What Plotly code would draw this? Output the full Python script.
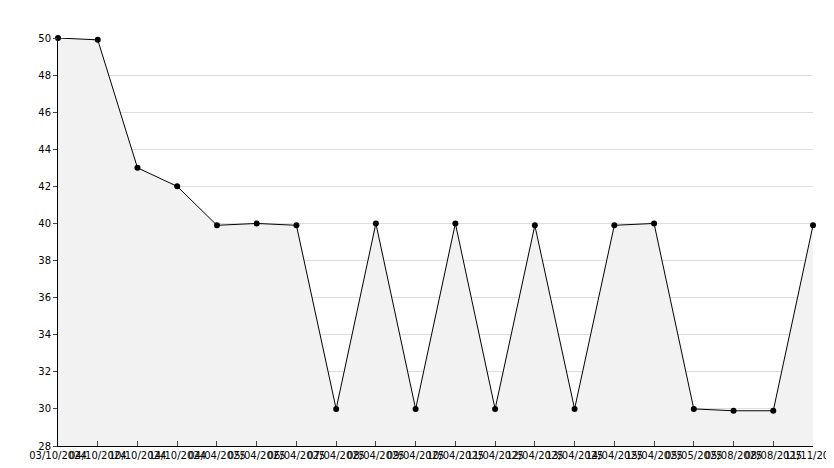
import plotly.graph_objects as go

dates = ["03/10/2024","04/10/2024","10/10/2024","14/10/2024","04/04/2025","05/04/2025",
         "06/04/2025","07/04/2025","08/04/2025","09/04/2025","10/04/2025","11/04/2025",
         "12/04/2025","13/04/2025","14/04/2025","15/04/2025","05/05/2025","05/08/2025",
         "08/08/2025","11/11/2025"]
values = [50, 49.9, 43, 42, 39.9, 40, 39.9, 30, 40, 30, 40, 30, 39.9, 30, 39.9, 40, 30, 29.9, 29.9, 39.9]
idx = list(range(len(dates)))

fig = go.Figure(go.Scatter(
    x=idx, y=values, mode="lines+markers", fill="tozeroy", fillcolor="#f2f2f2",
    line=dict(color="black", width=1), marker=dict(color="black", size=6, symbol="circle"),
    cliponaxis=False))
fig.update_layout(
    width=834, height=468, margin=dict(l=50, r=29, t=30, b=30),
    plot_bgcolor="white", paper_bgcolor="white", showlegend=False,
    font=dict(family="DejaVu Sans", size=10, color="black"))
fig.update_xaxes(range=[0, len(dates)-1], tickvals=idx, ticktext=dates, tickangle=0,
                 showgrid=False, showline=True, linecolor="black", ticks="inside", ticklen=5,
                 zeroline=False, automargin=False)
fig.update_yaxes(range=[28, 50], dtick=2, showgrid=True, gridcolor="#dddddd",
                 showline=True, linecolor="black", ticks="outside", ticklen=4, zeroline=False,
                 automargin=False)
fig.write_html("out.html")
